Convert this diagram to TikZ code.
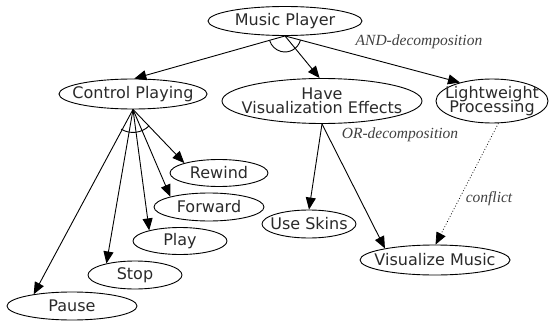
\documentclass[tikz,border=0pt]{standalone}
\usepackage{fontspec}
\setmainfont{DejaVu Sans}
\newfontfamily\labelfont{Liberation Serif}
\usetikzlibrary{shapes.geometric,arrows.meta}

\definecolor{nodetext}{HTML}{2A2A2A}
\definecolor{labeltext}{HTML}{404040}

\tikzset{
  goaltext/.style={inner sep=0pt, align=center,
    font=\fontsize{16}{16.5}\selectfont, text=nodetext},
  goal/.style n args={3}{ellipse, draw, line width=0.9pt, inner sep=0pt,
    minimum width=#1, minimum height=#2,
    label={[goaltext]center:#3}},
  edge/.style={line width=0.9pt, -{Triangle[length=12pt,width=10pt]}},
  weakedge/.style={edge, dotted, line width=0.7pt},
  rel/.style={font=\labelfont\itshape\fontsize{15.5}{16}\selectfont, text=labeltext},
}

\begin{document}
\begin{tikzpicture}[x=1pt, y=-1pt]
  \useasboundingbox (0,0) rectangle (554,321);

  % goals: ellipse outline, text set as a centred label
  \node[goal={154pt}{29pt}{Music Player}]                      (mp)     at (285,21)  {};
  \node[goal={148pt}{30pt}{Control Playing}]                   (cp)     at (133,94)  {};
  \node[goal={200pt}{45pt}{Have\\[-2pt]Visualization Effects}] (have)   at (322,101) {};
  \node[goal={112pt}{44pt}{Lightweight\\[-2pt]Processing}]     (lp)     at (492,101) {};
  \node[goal={94pt}{28pt}{Use Skins}]                          (skins)  at (309,224) {};
  \node[goal={150pt}{30pt}{Visualize Music}]                   (vm)     at (435,260) {};
  \node[goal={98pt}{27pt}{Rewind}]                             (rewind) at (219,173) {};
  \node[goal={110pt}{28pt}{Forward}]                           (fwd)    at (209,207) {};
  \node[goal={94pt}{27pt}{Play}]                               (play)   at (180,241) {};
  \node[goal={94pt}{28pt}{Stop}]                               (stop)   at (135,275) {};
  \node[goal={130pt}{28pt}{Pause}]                             (pause)  at (72,306)  {};

  % AND decomposition of the root
  \draw[edge] (mp.south) -- (cp.85);
  \draw[edge] (mp.south) -- (have.96);
  \draw[edge] (mp.south) -- (lp.150);
  \draw[line width=0.9pt] (mp.south) ++(15.3:16) arc[start angle=15.3, end angle=163.1, radius=16];

  % AND decomposition of Control Playing
  \draw[edge] (cp.south) -- (rewind.164);
  \draw[edge] (cp.south) -- (fwd.165);
  \draw[edge] (cp.south) -- (play.161);
  \draw[edge] (cp.south) -- (stop.158);
  \draw[edge] (cp.south) -- (pause.163);
  \draw[line width=0.9pt] (cp.south) ++(45:23) arc[start angle=45, end angle=121, radius=23];

  % OR decomposition
  \draw[edge] (have.south) -- (skins.north);
  \draw[edge] (have.south) -- (vm.167);

  % conflict
  \draw[weakedge] (lp.-74) -- (vm.88);

  % relation labels
  \node[rel] (andlbl)  at (419,42)  {AND-decomposition};
  \node[rel] (orlbl)   at (400,135) {OR-decomposition};
  \node[rel] (conflbl) at (489,199) {conflict};
\end{tikzpicture}
\end{document}
